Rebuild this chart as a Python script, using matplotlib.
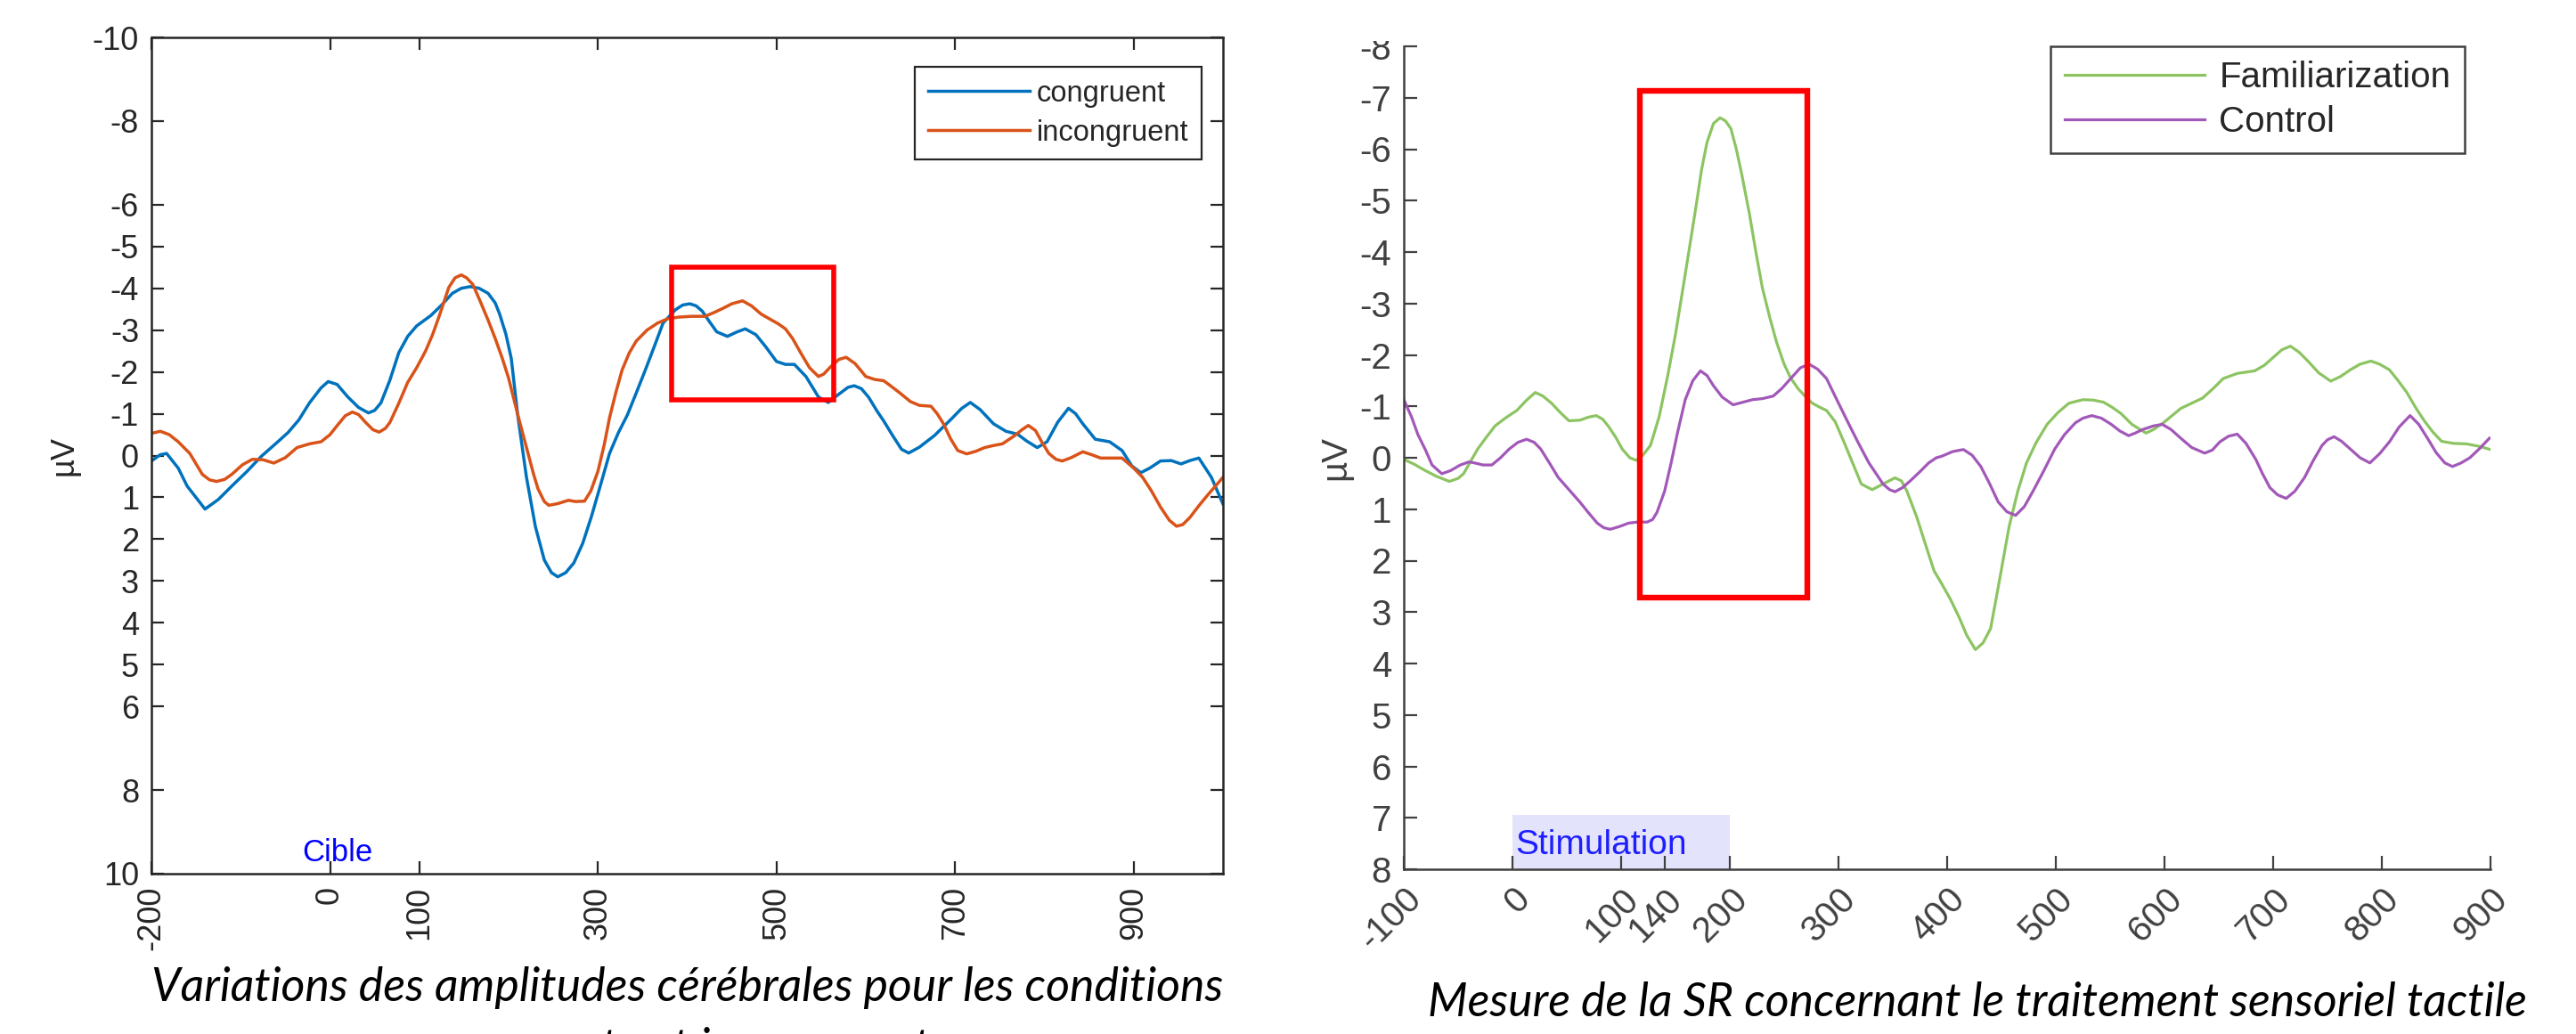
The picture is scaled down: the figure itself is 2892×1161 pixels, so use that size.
import matplotlib
matplotlib.use("Agg")
import matplotlib.pyplot as plt
from matplotlib import font_manager
from matplotlib.patches import Rectangle

plt.rcParams['axes.unicode_minus'] = False

# ---------------- data : left panel ----------------
cong_t = [-200,-190,-183,-170,-160,-140,-125,-110,-93,-77,-60,-47,-35,-23,-10,-2,8,20,32,43,50,57,67,77,87,97,113,125,137,147,157,167,177,185,190,197,203,210,220,230,240,248,255,264,273,283,293,303,313,323,333,343,353,363,373,387,395,403,410,417,425,433,445,455,465,477,488,500,510,520,533,547,558,570,580,587,595,603,613,620,630,640,648,660,677,697,707,717,728,743,757,770,780,792,803,815,827,835,843,857,873,887,898,908,918,930,942,953,963,973,987,1000]
cong_v = [0.13,-0.02,-0.05,0.3,0.73,1.28,1.05,0.73,0.38,0.02,-0.3,-0.55,-0.85,-1.26,-1.62,-1.77,-1.7,-1.4,-1.15,-1.02,-1.08,-1.26,-1.8,-2.46,-2.85,-3.1,-3.35,-3.6,-3.88,-4.0,-4.04,-4.0,-3.88,-3.65,-3.38,-2.9,-2.32,-1.0,0.52,1.7,2.5,2.8,2.9,2.8,2.57,2.1,1.44,0.7,-0.05,-0.55,-0.97,-1.5,-2.04,-2.6,-3.17,-3.49,-3.6,-3.63,-3.58,-3.45,-3.2,-2.96,-2.85,-2.95,-3.03,-2.89,-2.6,-2.25,-2.18,-2.18,-1.89,-1.4,-1.27,-1.47,-1.63,-1.67,-1.6,-1.4,-1.05,-0.83,-0.48,-0.15,-0.06,-0.2,-0.48,-0.9,-1.12,-1.27,-1.1,-0.76,-0.58,-0.51,-0.35,-0.19,-0.33,-0.8,-1.13,-1.0,-0.76,-0.39,-0.33,-0.12,0.25,0.41,0.3,0.13,0.12,0.2,0.12,0.06,0.52,1.16]

incong_t = [-200,-190,-180,-170,-157,-143,-135,-127,-118,-110,-98,-87,-75,-63,-50,-37,-23,-10,0,7,17,25,32,40,48,55,62,67,77,87,97,107,115,123,133,140,147,153,160,168,177,185,193,200,210,220,228,233,240,245,255,267,275,285,292,300,307,313,320,327,335,343,355,367,378,390,405,420,430,440,450,462,472,483,493,502,510,518,527,537,547,553,560,570,578,588,600,610,620,627,638,650,660,673,680,687,695,703,713,723,733,743,753,767,775,782,790,797,805,813,820,830,843,853,863,875,887,900,910,920,930,940,948,955,963,973,983,992,1000]
incong_v = [-0.53,-0.58,-0.5,-0.33,-0.05,0.45,0.58,0.62,0.57,0.45,0.22,0.09,0.1,0.18,0.05,-0.19,-0.28,-0.33,-0.5,-0.69,-0.95,-1.04,-0.98,-0.79,-0.62,-0.56,-0.65,-0.79,-1.25,-1.75,-2.1,-2.5,-2.9,-3.38,-4.02,-4.25,-4.32,-4.25,-4.09,-3.7,-3.24,-2.8,-2.32,-1.85,-1.0,-0.19,0.45,0.8,1.1,1.19,1.15,1.07,1.1,1.09,0.85,0.38,-0.25,-0.9,-1.5,-2.04,-2.45,-2.74,-3.0,-3.17,-3.27,-3.31,-3.33,-3.33,-3.42,-3.52,-3.63,-3.7,-3.58,-3.38,-3.26,-3.15,-3.03,-2.8,-2.46,-2.1,-1.89,-1.95,-2.11,-2.3,-2.35,-2.2,-1.89,-1.82,-1.79,-1.68,-1.5,-1.29,-1.2,-1.18,-1.0,-0.76,-0.4,-0.12,-0.04,-0.1,-0.19,-0.24,-0.28,-0.48,-0.62,-0.72,-0.6,-0.33,-0.05,0.09,0.13,0.05,-0.09,-0.02,0.06,0.06,0.06,0.3,0.52,0.85,1.23,1.55,1.69,1.65,1.48,1.2,0.94,0.72,0.52]

left_labels = ["congruent", "incongruent"]
left_xticks = [-200, 0, 100, 300, 500, 700, 900]
left_yticks = [-10, -8, -6, -5, -4, -3, -2, -1, 0, 1, 2, 3, 4, 5, 6, 8, 10]
left_box = [383, 564, -4.5, -1.33]   # t0, t1, v0, v1
left_caption = ["Variations des amplitudes cérébrales pour les conditions",
                "congruente et incongruente"]

# ---------------- data : right panel ----------------
fam_t = [-100,-90,-81,-70,-58,-50,-45,-38,-32,-24,-16,-6,4,13,21,28,36,44,52,62,70,77,83,88,95,101,108,114,120,127,135,143,150,156,163,169,174,179,185,191,196,201,206,211,218,224,230,237,243,250,256,263,270,276,283,289,297,305,313,321,331,341,352,358,363,372,380,388,395,403,411,418,426,433,440,448,457,465,473,482,492,502,512,525,535,544,552,560,570,583,590,599,607,615,625,635,645,654,667,683,692,700,708,716,724,732,742,753,762,771,780,790,798,807,815,823,831,839,847,855,866,878,890,900]
fam_v = [0.03,0.13,0.24,0.36,0.46,0.4,0.31,0.05,-0.17,-0.4,-0.62,-0.78,-0.92,-1.12,-1.27,-1.2,-1.06,-0.88,-0.72,-0.73,-0.79,-0.82,-0.75,-0.62,-0.4,-0.17,0.0,0.05,-0.05,-0.24,-0.8,-1.61,-2.4,-3.18,-4.1,-4.9,-5.6,-6.13,-6.5,-6.61,-6.55,-6.4,-6.0,-5.51,-4.75,-4.0,-3.3,-2.71,-2.25,-1.82,-1.55,-1.34,-1.18,-1.06,-0.98,-0.92,-0.7,-0.31,0.1,0.51,0.62,0.51,0.39,0.45,0.65,1.15,1.68,2.2,2.45,2.75,3.1,3.45,3.73,3.6,3.32,2.4,1.34,0.65,0.1,-0.3,-0.65,-0.88,-1.06,-1.13,-1.12,-1.08,-0.98,-0.86,-0.65,-0.48,-0.55,-0.68,-0.82,-0.96,-1.06,-1.16,-1.35,-1.54,-1.64,-1.69,-1.8,-1.95,-2.1,-2.17,-2.05,-1.88,-1.65,-1.49,-1.58,-1.71,-1.82,-1.88,-1.82,-1.71,-1.5,-1.27,-0.98,-0.72,-0.5,-0.32,-0.28,-0.27,-0.22,-0.16]

ctrl_t = [-100,-93,-87,-80,-74,-65,-57,-48,-40,-35,-27,-19,-11,-3,5,13,20,26,34,42,52,62,70,78,84,90,98,107,115,124,129,133,140,146,152,159,166,173,179,185,193,203,212,221,230,240,248,256,265,273,281,289,298,308,318,328,335,341,347,352,359,366,375,383,390,395,405,415,423,431,439,447,455,463,471,479,489,499,508,518,525,533,542,551,559,567,573,580,590,598,606,615,625,637,644,651,659,667,675,684,690,697,704,712,720,729,737,745,750,756,763,771,780,789,798,807,816,826,834,842,850,858,865,873,881,890,899]
ctrl_v = [-1.13,-0.8,-0.45,-0.15,0.14,0.31,0.25,0.14,0.08,0.1,0.14,0.14,0.0,-0.17,-0.3,-0.36,-0.3,-0.17,0.1,0.38,0.62,0.86,1.07,1.27,1.36,1.39,1.34,1.27,1.25,1.25,1.2,1.06,0.65,0.1,-0.5,-1.13,-1.5,-1.69,-1.6,-1.4,-1.18,-1.03,-1.08,-1.13,-1.15,-1.2,-1.35,-1.54,-1.75,-1.82,-1.72,-1.54,-1.15,-0.72,-0.3,0.1,0.32,0.51,0.62,0.66,0.58,0.45,0.27,0.1,0.0,-0.03,-0.12,-0.16,-0.05,0.17,0.5,0.86,1.05,1.12,0.95,0.65,0.25,-0.17,-0.45,-0.68,-0.77,-0.82,-0.77,-0.65,-0.52,-0.43,-0.48,-0.55,-0.62,-0.65,-0.55,-0.38,-0.2,-0.09,-0.15,-0.31,-0.42,-0.46,-0.28,0.03,0.3,0.58,0.72,0.79,0.65,0.38,0.05,-0.24,-0.35,-0.41,-0.32,-0.17,0.0,0.1,-0.08,-0.31,-0.6,-0.82,-0.65,-0.38,-0.1,0.1,0.17,0.1,0.0,-0.18,-0.38]

right_labels = ["Familiarization", "Control"]
right_xticks = [-100, 0, 100, 140, 200, 300, 400, 500, 600, 700, 800, 900]
right_yticks = [-8, -7, -6, -5, -4, -3, -2, -1, 0, 1, 2, 3, 4, 5, 6, 7, 8]
right_box = [117, 271, -7.13, 2.71]
stim_span = [0, 200]
right_caption = "Mesure de la SR concernant le traitement sensoriel tactile"

# ---------------- figure ----------------
W, H = 2892, 1161
fig = plt.figure(figsize=(W / 100, H / 100), dpi=100)

names = {f.name for f in font_manager.fontManager.ttflist}
base_font = 'Liberation Sans' if 'Liberation Sans' in names else 'DejaVu Sans'
cap_font = 'Lato' if 'Lato' in names else 'Open Sans'


def fx(px):
    return px / W


def fy(py):
    return 1 - py / H


# ---- left axes ----
axL = fig.add_axes([fx(170), fy(981), (1373 - 170) / W, (981 - 42) / H])
axL.plot(cong_t, cong_v, color='#0072BD', lw=2.5, label=left_labels[0])
axL.plot(incong_t, incong_v, color='#D95319', lw=2.5, label=left_labels[1])
axL.set_xlim(-200, 1000)
axL.set_ylim(10, -10)
axL.set_xticks(left_xticks)
axL.set_xticklabels([str(v) for v in left_xticks], rotation=90)
axL.set_yticks(left_yticks)
axL.set_yticklabels([str(v) for v in left_yticks])
axL.tick_params(direction='in', length=10, width=1.6, top=True, right=True,
                labelsize=26, colors='#262626', pad=10)
for t in axL.get_xticklabels() + axL.get_yticklabels():
    t.set_fontfamily(base_font)
for s in axL.spines.values():
    s.set_color('#262626')
    s.set_linewidth(1.8)
axL.set_ylabel('µV', fontsize=26, color='#262626', family=base_font, labelpad=10)
axL.add_patch(Rectangle((left_box[0], left_box[2]), left_box[1] - left_box[0],
                        left_box[3] - left_box[2], fill=False, ec='#FF0000',
                        lw=4.0, zorder=5, clip_on=False))
axL.text(8, 9.85, 'Cible', ha='center', va='bottom', color='#0000FF',
         fontsize=25, family=base_font)
legL = axL.legend(loc='upper left', bbox_to_anchor=(fx(1027), fy(75)),
                  bbox_transform=fig.transFigure, fancybox=False,
                  edgecolor='#262626', framealpha=1, borderaxespad=0,
                  handlelength=3.5, borderpad=0.45, labelspacing=0.4,
                  handletextpad=0.25, prop={'family': base_font, 'size': 23.5})
legL.get_frame().set_linewidth(1.6)
for t in legL.get_texts():
    t.set_color('#262626')

# ---- right axes ----
axR = fig.add_axes([fx(1576), fy(976), (2796 - 1576) / W, (976 - 52) / H])
axR.add_patch(Rectangle((stim_span[0], 6.95), stim_span[1] - stim_span[0], 1.05,
                        facecolor='#E3E3FB', edgecolor='none', zorder=0))
axR.plot(fam_t, fam_v, color='#8CC462', lw=2.3, label=right_labels[0])
axR.plot(ctrl_t, ctrl_v, color='#A258B8', lw=2.3, label=right_labels[1])
axR.set_xlim(-100, 900)
axR.set_ylim(8, -8)
axR.set_xticks(right_xticks)
axR.set_xticklabels([str(v) for v in right_xticks], rotation=45, ha='right',
                    rotation_mode='anchor')
axR.set_yticks(right_yticks)
axR.set_yticklabels([str(v) for v in right_yticks])
axR.tick_params(direction='in', length=11, width=1.6, labelsize=29,
                colors='#404040', pad=10)
for t in axR.get_xticklabels() + axR.get_yticklabels():
    t.set_fontfamily(base_font)
axR.spines['top'].set_visible(False)
axR.spines['right'].set_visible(False)
for s in ('left', 'bottom'):
    axR.spines[s].set_color('#404040')
    axR.spines[s].set_linewidth(1.8)
axR.set_ylabel('µV', fontsize=29, color='#404040', family=base_font, labelpad=6)
axR.add_patch(Rectangle((right_box[0], right_box[2]), right_box[1] - right_box[0],
                        right_box[3] - right_box[2], fill=False, ec='#FF0000',
                        lw=4.6, zorder=5, clip_on=False))
axR.text(3, 7.7, 'Stimulation', ha='left', va='baseline', color='#1E1EFF',
         fontsize=28, family=base_font)
legR = axR.legend(loc='upper left', bbox_to_anchor=(fx(2302), fy(52)),
                  bbox_transform=fig.transFigure, fancybox=False,
                  edgecolor='#404040', framealpha=1, borderaxespad=0,
                  handlelength=3.9, borderpad=0.4, labelspacing=0.3,
                  handletextpad=0.4, prop={'family': base_font, 'size': 29})
legR.get_frame().set_linewidth(1.8)
for t in legR.get_texts():
    t.set_color('#262626')

# crop of the right panel top (the "-8" label is cut in the source)
fig.patches.append(Rectangle((fx(1450), fy(46)), fx(1570) - fx(1450), 46 / H,
                             transform=fig.transFigure, facecolor='white',
                             edgecolor='none', zorder=20))

# ---- captions ----
renderer = fig.canvas.get_renderer()


def fit_text(x_center, baseline, s, width_px, size0=30):
    t = fig.text(fx(x_center), fy(baseline), s, ha='center', va='baseline',
                 style='italic', family=cap_font, fontsize=size0, color='black')
    w = t.get_window_extent(renderer).width
    size = size0 * width_px / w
    t.set_fontsize(size)
    return t, size


tL, sL = fit_text((170 + 1373) / 2, 1124, left_caption[0], 1373 - 170)
fig.text(fx((170 + 1373) / 2), fy(1192), left_caption[1], ha='center',
         va='baseline', style='italic', family=cap_font, fontsize=sL, color='black')
fit_text((1603 + 2836) / 2, 1141, right_caption, 2836 - 1603)

fig.savefig('out.png', dpi=100)
